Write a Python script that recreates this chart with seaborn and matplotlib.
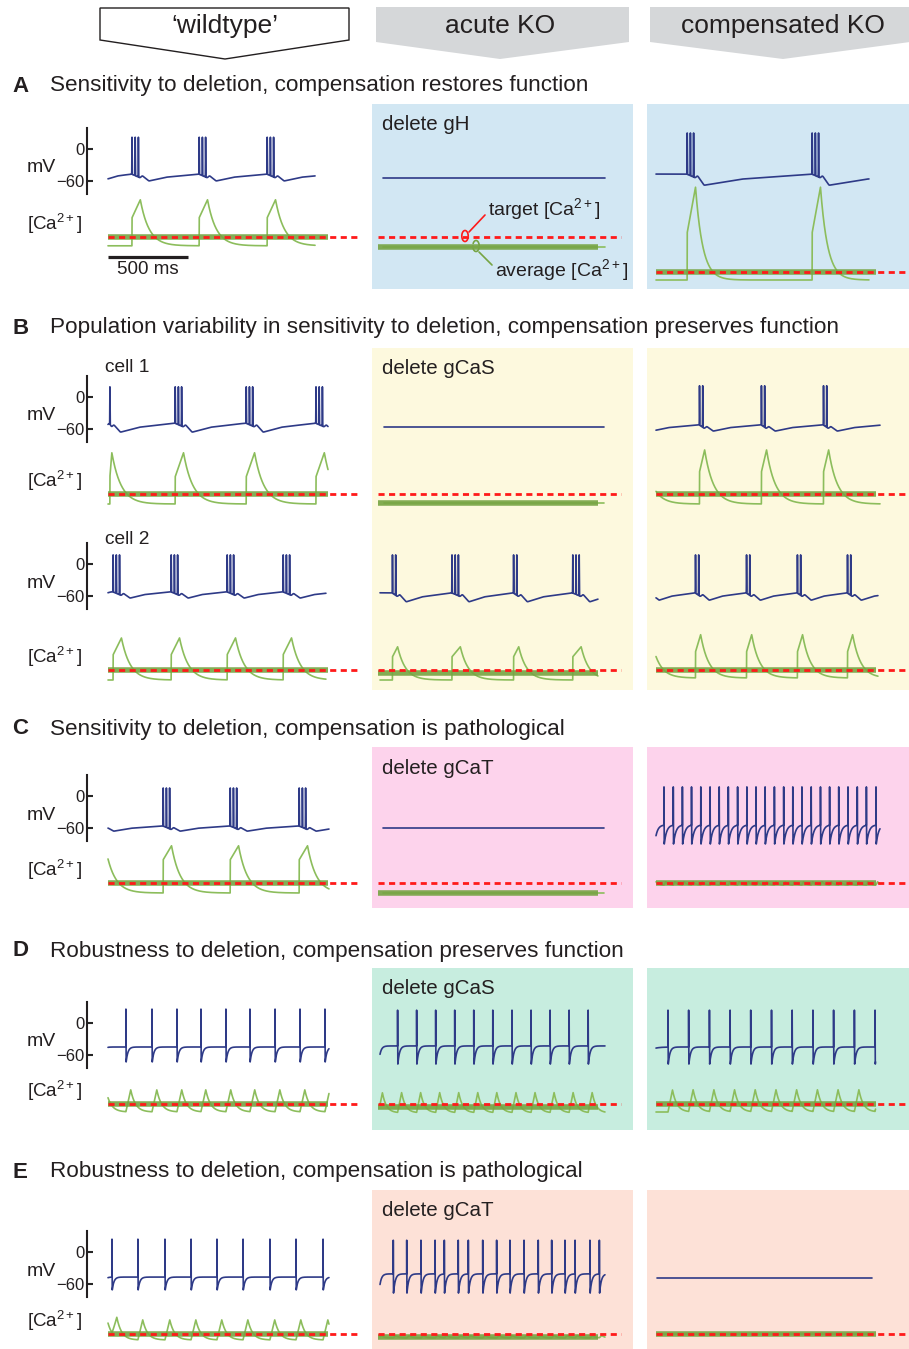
import numpy as np
import matplotlib
matplotlib.use("Agg")
import matplotlib.pyplot as plt
import seaborn as sns
from matplotlib.patches import Rectangle, Polygon

# ---------------- values ----------------
# time in ms, membrane potential in mV, [Ca2+] in units of the target level
COLUMNS = ["\u2018wildtype\u2019", "acute KO", "compensated KO"]
PANEL_LETTERS = ["A", "B", "C", "D", "E"]
PANEL_TITLES = [
    "Sensitivity to deletion, compensation restores function",
    "Population variability in sensitivity to deletion, compensation preserves function",
    "Sensitivity to deletion, compensation is pathological",
    "Robustness to deletion, compensation preserves function",
    "Robustness to deletion, compensation is pathological",
]
DELETED = ["delete gH", "delete gCaS", "delete gCaT", "delete gCaS", "delete gCaT"]
CA_TARGET = 1.0
SCALE_BAR_MS = 500

# bursting traces: burst onsets, spikes per burst,
# vm = [start, pre-burst, post-burst dip, spike peak], ca = [low, step, peak, decay tau], span = [t0, t1]
A_WT_BURSTS = [150, 570, 995]
A_WT_NSPK = [3, 3, 3]
A_WT_VM = [-56, -47, -60, 22]
A_WT_CA = [0.78, 1.48, 1.93, 55]
A_WT_SPAN = [0, 1294]

A_COMP_BURSTS = [195, 976]
A_COMP_NSPK = [3, 3]
A_COMP_VM = [-47, -47, -68, 30]
A_COMP_CA = [0.8, 1.98, 3.12, 45]
A_COMP_SPAN = [0, 1331]

B1_WT_BURSTS = [12, 420, 864, 1300]
B1_WT_NSPK = [1, 3, 3, 3]
B1_WT_VM = [-52, -49, -66, 19]
B1_WT_CA = [0.75, 1.43, 2.03, 58]
B1_WT_SPAN = [0, 1375]

B1_COMP_BURSTS = [-112, 272, 659, 1047]
B1_COMP_NSPK = [2, 2, 2, 2]
B1_COMP_VM = [-60, -52, -64, 21]
B1_COMP_CA = [0.75, 1.55, 2.1, 55]
B1_COMP_SPAN = [0, 1400]

B2_WT_BURSTS = [32, 395, 745, 1095]
B2_WT_NSPK = [3, 3, 3, 3]
B2_WT_VM = [-54, -52, -64, 17]
B2_WT_CA = [0.75, 1.38, 1.8, 55]
B2_WT_SPAN = [0, 1362]

B2_KO_BURSTS = [78, 450, 835, 1205]
B2_KO_NSPK = [2, 3, 2, 3]
B2_KO_VM = [-54, -54, -71, 17]
B2_KO_CA = [0.75, 1.33, 1.58, 50]
B2_KO_SPAN = [0, 1362]

B2_COMP_BURSTS = [-67, 247, 566, 884, 1197]
B2_COMP_NSPK = [2, 2, 2, 2, 2]
B2_COMP_VM = [-62, -54, -68, 17]
B2_COMP_CA = [0.8, 1.45, 1.88, 50]
B2_COMP_SPAN = [0, 1387]

C_WT_BURSTS = [-70, 345, 764, 1195]
C_WT_NSPK = [3, 3, 3, 3]
C_WT_VM = [-64, -56, -66, 15]
C_WT_CA = [0.75, 1.58, 1.93, 55]
C_WT_SPAN = [0, 1381]

# tonic traces: spike times, vm = [start, plateau, trough, peak, recovery tau],
# ca = [low, amplitude, rise, decay tau]
C_COMP_SPIKES = [-10, 50, 108, 165, 222, 280, 338, 395, 452, 510, 568, 625, 682,
                 740, 798, 855, 912, 970, 1028, 1085, 1142, 1200, 1258, 1315, 1375]
C_COMP_VM = [-79, -54, -90, 17, 15]
C_COMP_CA = [0.95, 0.08, 10, 15]
C_COMP_SPAN = [0, 1400]

D_WT_SPIKES = [-43, 112, 275, 431, 581, 737, 887, 1044, 1200, 1356]
D_WT_VM = [-51, -45, -73, 26, 11]
D_WT_CA = [0.8, 0.55, 30, 30]
D_WT_SPAN = [0, 1381]

D_KO_SPIKES = [-10, 110, 229, 348, 467, 586, 705, 825, 944, 1063, 1182, 1301]
D_KO_VM = [-75, -43, -77, 24, 11]
D_KO_CA = [0.78, 0.5, 25, 25]
D_KO_SPAN = [0, 1406]

D_COMP_SPIKES = [75, 204, 334, 463, 592, 722, 851, 981, 1110, 1240, 1369]
D_COMP_VM = [-47, -45, -77, 24, 11]
D_COMP_CA = [0.8, 0.55, 28, 28]
D_COMP_SPAN = [0, 1372]

E_WT_SPIKES = [-35, 25, 187, 356, 519, 681, 844, 1012, 1175, 1344]
E_WT_VM = [-43, -47, -71, 24, 11]
E_WT_CA = [0.85, 0.5, 30, 30]
E_WT_SPAN = [0, 1381]

E_KO_SPIKES = [-8, 83, 167, 256, 344, 402, 489, 552, 642, 729, 812, 900,
               989, 1073, 1156, 1219, 1312, 1371]
E_KO_VM = [-71, -41, -77, 22, 11]
E_KO_CA = [0.9, 0.06, 15, 20]
E_KO_SPAN = [0, 1406]

# silent traces: [vm, ca, t0, t1]
A_KO_FLAT = [-54, 0.75, 19, 1406]
B1_KO_FLAT = [-56, 0.78, 25, 1400]
C_KO_FLAT = [-60, 0.75, 19, 1400]
E_COMP_FLAT = [-49, 1.0, 6, 1350]

# average [Ca2+] per row (wildtype, acute KO, compensated KO)
A_AVG = [1.0, 0.75, 1.0]
B1_AVG = [1.0, 0.78, 1.0]
B2_AVG = [1.0, 0.93, 1.0]
C_AVG = [1.0, 0.75, 1.0]
D_AVG = [1.0, 0.93, 1.0]
E_AVG = [1.0, 0.93, 1.0]

# ---------------- waveform helpers ----------------
DT = 0.5
ISI = 20.0


def burst_vm(t, onsets, nspk, levels, isi=ISI):
    v_start, v_pre, v_dip, v_peak = levels
    on = np.asarray(onsets, float)
    period = np.diff(on).mean() if len(on) > 1 else 780.0
    kt, kv = [], []
    if on[0] - 4 > t[0] + 1:
        kt += [t[0], t[0] + 0.4 * (on[0] - 4 - t[0])]
        kv += [v_start, v_start + 0.6 * (v_pre - v_start)]
    for i, (o, n) in enumerate(zip(on, nspk)):
        end = o + (n - 1) * isi
        nxt = on[i + 1] if i + 1 < len(on) else o + period
        kt += [o - 4, end + 10, end + 24, end + 65]
        kv += [v_pre, v_pre - 7, v_pre - 3, v_dip]
        gap = nxt - 4 - (end + 65)
        kt += [end + 65 + 0.35 * gap]
        kv += [v_dip + 0.55 * (v_pre - v_dip)]
    kt.append(on[-1] + period - 4)
    kv.append(v_pre)
    base = np.interp(t, kt, kv)
    w = 20
    pad = np.concatenate([np.full(w, base[0]), base, np.full(w, base[-1])])
    base = np.convolve(pad, np.ones(w) / w, mode="same")[w:-w]
    v = base.copy()
    for o, n in zip(on, nspk):
        for k in range(n):
            ts = o + k * isi
            v += (v_peak - np.interp(ts, t, base)) * np.exp(-0.5 * ((t - ts) / 0.7) ** 2)
    return v


def burst_ca(t, onsets, nspk, levels, isi=ISI):
    low, step, peak, tau = levels
    ca = np.full_like(t, low)
    for o, n in zip(onsets, nspk):
        dur = (n - 1) * isi + 12
        s = t - o
        rise = (step - low) + (peak - step) * np.clip(s / dur, 0, 1)
        decay = (peak - low) * np.exp(-(s - dur) / tau)
        ca += np.where(s < 0, 0, np.where(s < dur, rise, decay))
    return ca


def tonic_vm(t, spikes, levels):
    v_start, v_plat, v_trough, v_peak, tau = levels
    sp = np.asarray(spikes, float)
    idx = np.searchsorted(sp, t, side="right") - 1
    s = t - sp[np.clip(idx, 0, None)]
    fall = 1.5
    rec = v_plat - (v_plat - v_trough) * np.exp(-(s - fall) / tau)
    v = np.where(s < fall, v_peak + (v_trough - v_peak) * s / fall, rec)
    before = idx < 0
    v[before] = v_plat - (v_plat - v_start) * np.exp(-(t[before] - t[0]) / (3 * tau))
    return v


def tonic_ca(t, spikes, levels):
    low, amp, rise, tau = levels
    ca = np.full_like(t, low)
    for ts in spikes:
        s = t - ts
        ca += amp * np.where(s < 0, 0, np.where(s < rise, s / rise, np.exp(-(s - rise) / tau)))
    return ca


# ---------------- figure ----------------
W, H = 909, 1349
MS_PX = 6.25          # ms per pixel
MV_PX = 60 / 32       # mV per pixel
CA_PX = 1 / 40        # target units per pixel

V_COLOR = "#2e3a87"
CA_COLOR = "#8cbd5c"
AVG_COLOR = "#76a443"
TARGET_COLOR = "#ff1a1a"
TEXT_COLOR = "#231f20"
BG_COLORS = ["#d2e7f3", "#fdf9de", "#fdd3ec", "#c7eddf", "#fde1d7"]
HEADER_GRAY = "#d5d7d9"

sns.set_style("white")
plt.rcParams["font.family"] = ["Liberation Sans", "DejaVu Sans"]
plt.rcParams["mathtext.fontset"] = "custom"
plt.rcParams["mathtext.rm"] = "Liberation Sans"
plt.rcParams["mathtext.it"] = "Liberation Sans:italic"

fig = plt.figure(figsize=(W / 100, H / 100), dpi=100)


def px_axes(x0, y0, w, h):
    ax = fig.add_axes([x0 / W, 1 - (y0 + h) / H, w / W, h / H])
    ax.patch.set_alpha(0)
    return ax


bg = px_axes(0, 0, W, H)
bg.set_xlim(0, W)
bg.set_ylim(H, 0)
bg.axis("off")

# column headers
header_shapes = [
    [(100, 8), (349, 8), (349, 40), (225, 59), (100, 40)],
    [(376, 7), (629, 7), (629, 42), (500, 59), (376, 42)],
    [(650, 7), (910, 7), (910, 42), (783, 59), (650, 42)],
]
header_x = [225, 500, 783]
for i, pts in enumerate(header_shapes):
    if i == 0:
        bg.add_patch(Polygon(pts, closed=True, facecolor="white", edgecolor=TEXT_COLOR, lw=1.0))
    else:
        bg.add_patch(Polygon(pts, closed=True, facecolor=HEADER_GRAY, edgecolor="none"))
    bg.text(header_x[i], 26, COLUMNS[i], ha="center", va="center", fontsize=19, color=TEXT_COLOR)

# panel titles and coloured backgrounds
title_y = [86, 328, 729, 951, 1172]
bg_rows = [(104, 289), (348, 690), (747, 908), (968, 1130), (1190, 1349)]
label_y = [125, 368, 768, 989, 1211]
for i in range(5):
    bg.text(12, title_y[i], PANEL_LETTERS[i], ha="left", va="center", fontsize=16,
            fontweight="bold", color=TEXT_COLOR)
    bg.text(50, title_y[i], PANEL_TITLES[i], ha="left", va="center", fontsize=16.2, color=TEXT_COLOR)
    y0, y1 = bg_rows[i]
    for x0, x1 in [(372, 633), (647, 910)]:
        bg.add_patch(Rectangle((x0, y0), x1 - x0, y1 - y0, facecolor=BG_COLORS[i], edgecolor="none", zorder=0))
    bg.text(382, label_y[i], DELETED[i], ha="left", va="center", fontsize=14.8, color=TEXT_COLOR)
bg.text(105, 368, "cell 1", ha="left", va="center", fontsize=13.8, color=TEXT_COLOR)
bg.text(105, 540, "cell 2", ha="left", va="center", fontsize=13.8, color=TEXT_COLOR)

# trace table
XO = [108, 380, 656]
ROWS = ["A", "B1", "B2", "C", "D", "E"]
V0 = {"A": [149, 149, 149], "B1": [397] * 3, "B2": [564] * 3, "C": [796] * 3, "D": [1023] * 3, "E": [1252] * 3}
CA0 = {"A": [237, 237, 272], "B1": [494] * 3, "B2": [670] * 3, "C": [883] * 3, "D": [1104] * 3, "E": [1334] * 3}
AVG = {"A": A_AVG, "B1": B1_AVG, "B2": B2_AVG, "C": C_AVG, "D": D_AVG, "E": E_AVG}
TRACES = {
    ("A", 0): ("burst", A_WT_BURSTS, A_WT_NSPK, A_WT_VM, A_WT_CA, A_WT_SPAN),
    ("A", 1): ("flat", A_KO_FLAT),
    ("A", 2): ("burst", A_COMP_BURSTS, A_COMP_NSPK, A_COMP_VM, A_COMP_CA, A_COMP_SPAN),
    ("B1", 0): ("burst", B1_WT_BURSTS, B1_WT_NSPK, B1_WT_VM, B1_WT_CA, B1_WT_SPAN),
    ("B1", 1): ("flat", B1_KO_FLAT),
    ("B1", 2): ("burst", B1_COMP_BURSTS, B1_COMP_NSPK, B1_COMP_VM, B1_COMP_CA, B1_COMP_SPAN),
    ("B2", 0): ("burst", B2_WT_BURSTS, B2_WT_NSPK, B2_WT_VM, B2_WT_CA, B2_WT_SPAN),
    ("B2", 1): ("burst", B2_KO_BURSTS, B2_KO_NSPK, B2_KO_VM, B2_KO_CA, B2_KO_SPAN),
    ("B2", 2): ("burst", B2_COMP_BURSTS, B2_COMP_NSPK, B2_COMP_VM, B2_COMP_CA, B2_COMP_SPAN),
    ("C", 0): ("burst", C_WT_BURSTS, C_WT_NSPK, C_WT_VM, C_WT_CA, C_WT_SPAN),
    ("C", 1): ("flat", C_KO_FLAT),
    ("C", 2): ("tonic", C_COMP_SPIKES, C_COMP_VM, C_COMP_CA, C_COMP_SPAN),
    ("D", 0): ("tonic", D_WT_SPIKES, D_WT_VM, D_WT_CA, D_WT_SPAN),
    ("D", 1): ("tonic", D_KO_SPIKES, D_KO_VM, D_KO_CA, D_KO_SPAN),
    ("D", 2): ("tonic", D_COMP_SPIKES, D_COMP_VM, D_COMP_CA, D_COMP_SPAN),
    ("E", 0): ("tonic", E_WT_SPIKES, E_WT_VM, E_WT_CA, E_WT_SPAN),
    ("E", 1): ("tonic", E_KO_SPIKES, E_KO_VM, E_KO_CA, E_KO_SPAN),
    ("E", 2): ("flat", E_COMP_FLAT),
}
AVG_SPAN = [(0, 1375), (-12, 1362), (0, 1375)]
TARGET_SPAN = [(0, 1575), (-12, 1506), (0, 1585)]


def line(ax, x, y, color, lw, **kw):
    sns.lineplot(x=np.asarray(x), y=np.asarray(y), ax=ax, color=color, linewidth=lw,
                 estimator=None, sort=False, legend=False, **kw)


for row in ROWS:
    for col in range(3):
        v0, c0 = V0[row][col], CA0[row][col]
        axv = px_axes(XO[col] - 21, v0 - 50, 276, 130)
        axv.set_xlim(-21 * MS_PX, 255 * MS_PX)
        axv.set_ylim(-80 * MV_PX, 50 * MV_PX)
        axc = px_axes(XO[col] - 21, c0 - 95, 276, 125)
        axc.set_xlim(-21 * MS_PX, 255 * MS_PX)
        axc.set_ylim(CA_TARGET - 30 * CA_PX, CA_TARGET + 95 * CA_PX)

        spec = TRACES[(row, col)]
        if spec[0] == "flat":
            vm, ca, t0, t1 = spec[1]
            line(axv, [t0, t1], [vm, vm], V_COLOR, 1.2)
            line(axc, [t0, t1], [ca, ca], CA_COLOR, 1.2)
        elif spec[0] == "burst":
            _, bursts, nspk, vm_lv, ca_lv, span = spec
            t = np.arange(span[0], span[1] + DT / 2, DT)
            line(axv, t, burst_vm(t, bursts, nspk, vm_lv), V_COLOR, 1.2)
            line(axc, t, burst_ca(t, bursts, nspk, ca_lv), CA_COLOR, 1.2)
        else:
            _, spikes, vm_lv, ca_lv, span = spec
            t = np.arange(span[0], span[1] + DT / 2, DT)
            line(axv, t, tonic_vm(t, spikes, vm_lv), V_COLOR, 1.2)
            line(axc, t, tonic_ca(t, spikes, ca_lv), CA_COLOR, 1.2)

        avg = AVG[row][col]
        axc.plot(AVG_SPAN[col], [avg, avg], color=AVG_COLOR, lw=4.0, alpha=0.9,
                 solid_capstyle="butt", zorder=3)
        axc.plot(TARGET_SPAN[col], [CA_TARGET, CA_TARGET], color=TARGET_COLOR, lw=2.0,
                 linestyle=(0, (2.2, 1.6)), zorder=4, clip_on=False)

        axc.axis("off")
        if col == 0:
            sns.despine(ax=axv, bottom=True)
            axv.spines["left"].set_bounds(-85, 40)
            axv.spines["left"].set_linewidth(1.5)
            axv.spines["left"].set_color(TEXT_COLOR)
            axv.set_xticks([])
            axv.set_yticks([-60, 0])
            axv.set_yticklabels(["\u221260", "0"], fontsize=12, color=TEXT_COLOR)
            axv.tick_params(axis="y", direction="in", length=4, width=1.5, pad=2, left=True)
            axv.set_xlabel("")
            axv.set_ylabel("mV", rotation=0, fontsize=14, color=TEXT_COLOR, ha="center", va="center")
            axv.yaxis.set_label_coords(-46 / 276, 61 / 130)
            bg.text(27, c0 - 13, "[Ca$^{2+}$]", ha="left", va="center", fontsize=13.5, color=TEXT_COLOR)
        else:
            axv.axis("off")

        if row == "A" and col == 0:
            ybar = CA_TARGET - 20 * CA_PX
            axc.plot([0, SCALE_BAR_MS], [ybar, ybar], color=TEXT_COLOR, lw=2.3, solid_capstyle="butt")
            axc.text(SCALE_BAR_MS / 2, ybar - 13 * CA_PX, f"{SCALE_BAR_MS} ms", ha="center",
                     va="center", fontsize=13.5, color=TEXT_COLOR)

# annotation of the target / average lines in panel A
bg.text(488, 209, "target [Ca$^{2+}$]", ha="left", va="center", fontsize=14, color=TEXT_COLOR)
bg.text(495, 270, "average [Ca$^{2+}$]", ha="left", va="center", fontsize=14, color=TEXT_COLOR)
bg.plot([485, 469], [215, 232], color=TARGET_COLOR, lw=1.2)
a = np.linspace(-0.35 * np.pi, 1.5 * np.pi, 40)
bg.plot(465 + 3.2 * np.cos(a + np.pi / 2), 236 + 5.5 * np.sin(a + np.pi / 2), color=TARGET_COLOR, lw=1.2)
bg.plot([479, 492], [252, 265], color=AVG_COLOR, lw=1.2)
bg.plot(476 + 3.2 * np.cos(a - np.pi / 2), 246 + 5.5 * np.sin(a - np.pi / 2), color=AVG_COLOR, lw=1.2)

fig.savefig("out.png", dpi=100)
